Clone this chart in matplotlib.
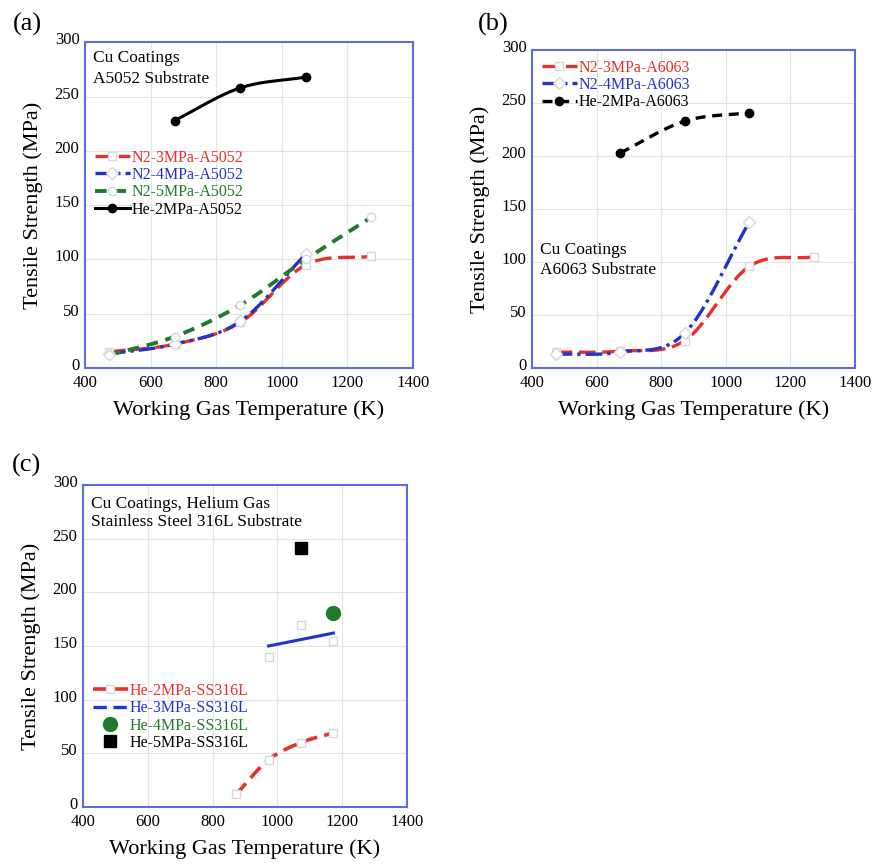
import matplotlib.pyplot as plt
import matplotlib.transforms as mtransforms
import numpy as np

# ---- data ----
temps = [473, 673, 873, 1073, 1273]

# (a) A5052 substrate
a_n2_3 = [15, 22, 42, 95, 103]
a_n2_4 = [13, 22, 43, 105]
a_n2_5 = [12, 29, 58, 100, 139]
a_he_2_t = [673, 873, 1073]
a_he_2 = [228, 258, 268]

# (b) A6063 substrate
b_n2_3 = [15, 16, 26, 96, 105]
b_n2_4 = [13, 15, 33, 138]
b_he_2_t = [673, 873, 1073]
b_he_2 = [203, 233, 241]

# (c) SS316L substrate
c_he_2_t = [873, 973, 1073, 1173]
c_he_2 = [12, 44, 60, 69]
c_he_3_t = [973, 1073, 1173]
c_he_3 = [140, 170, 155]          # measured points (open squares)
c_he_3_fit_t = [973, 1173]
c_he_3_fit = [150, 162]           # drawn line
c_he_4_t = [1173]
c_he_4 = [181]
c_he_5_t = [1073]
c_he_5 = [241]

RED = '#e8302a'
BLUE = '#2233cc'
GREEN = '#1f7a2a'
FRAME = '#5b6fd6'
OPEN_EDGE = '#d6d8e4'

plt.rcParams['font.family'] = ['Liberation Serif', 'DejaVu Serif']


def smooth(x, y, n=30):
    # cubic hermite curve through the points, like a spreadsheet "smoothed line"
    x = np.asarray(x, float)
    y = np.asarray(y, float)
    if len(x) < 3:
        return x, y
    px = np.concatenate([[2 * x[0] - x[1]], x, [2 * x[-1] - x[-2]]])
    py = np.concatenate([[2 * y[0] - y[1]], y, [2 * y[-1] - y[-2]]])
    xs, ys = [], []
    t = np.linspace(0, 1, n)
    h00 = 2 * t**3 - 3 * t**2 + 1
    h10 = t**3 - 2 * t**2 + t
    h01 = -2 * t**3 + 3 * t**2
    h11 = t**3 - t**2
    for i in range(1, len(px) - 2):
        for p, out in ((px, xs), (py, ys)):
            m1 = (p[i + 1] - p[i - 1]) / 2
            m2 = (p[i + 2] - p[i]) / 2
            out.extend(h00 * p[i] + h10 * m1 + h01 * p[i + 1] + h11 * m2)
    return np.array(xs), np.array(ys)


def series(ax, x, y, color, ls, lw, marker, label, filled=False, ms=6):
    sx, sy = smooth(x, y)
    ax.plot(sx, sy, color=color, ls=ls, lw=lw, zorder=3)
    mfc = color if filled else 'white'
    mec = color if filled else OPEN_EDGE
    ax.plot(x, y, ls='none', marker=marker, ms=ms, mfc=mfc, mec=mec, zorder=4)
    # legend proxy
    ax.plot([], [], color=color, ls=ls, lw=lw, marker=marker, ms=ms, mfc=mfc, mec=mec, label=label)


def style(ax):
    ax.set_xlim(400, 1400)
    ax.set_ylim(0, 300)
    ax.set_xticks(range(400, 1401, 200))
    ax.set_yticks(range(0, 301, 50))
    ax.grid(True, color='#e4e4e4', lw=0.8)
    ax.set_axisbelow(True)
    for s in ax.spines.values():
        s.set_color(FRAME)
        s.set_linewidth(1.5)
    ax.tick_params(length=0, labelsize=12)
    ax.tick_params(axis='x', pad=5)
    ax.tick_params(axis='y', pad=4)
    # y tick labels sit a little above their gridlines in the original
    shift = mtransforms.ScaledTranslation(0, 4 / 100, fig.dpi_scale_trans)
    for lab in ax.get_yticklabels():
        lab.set_transform(lab.get_transform() + shift)
    ax.set_xlabel('Working Gas Temperature (K)', fontsize=16, labelpad=7)
    ax.set_ylabel('Tensile Strength (MPa)', fontsize=16, labelpad=8)


def legend(ax, anchor):
    leg = ax.legend(loc='upper left', bbox_to_anchor=anchor, frameon=False, fontsize=11.5,
                    handlelength=2.2, handletextpad=0.1, labelspacing=0.08, borderaxespad=0)
    for txt, h in zip(leg.get_texts(), leg.legend_handles):
        txt.set_color(h.get_color())
    return leg


fig = plt.figure(figsize=(8.73, 8.64), dpi=100)

# ---- (a) ----
ax = fig.add_axes([0.0974, 0.574, 0.3757, 0.377])
style(ax)
series(ax, temps, a_n2_3, RED, (0, (5, 2)), 2.4, 's', 'N2-3MPa-A5052')
series(ax, temps[:4], a_n2_4, BLUE, (0, (5, 1.5, 1, 1.5)), 2.4, 'D', 'N2-4MPa-A5052')
series(ax, temps, a_n2_5, GREEN, (0, (3, 2)), 2.8, 'o', 'N2-5MPa-A5052')
series(ax, a_he_2_t, a_he_2, 'black', '-', 2.2, 'o', 'He-2MPa-A5052', filled=True)
ax.text(0.025, 0.975, 'Cu Coatings\nA5052 Substrate', transform=ax.transAxes,
        fontsize=12.5, va='top', linespacing=1.35)
legend(ax, (0.01, 0.69))

# ---- (b) ----
ax = fig.add_axes([0.6094, 0.574, 0.370, 0.368])
style(ax)
series(ax, temps, b_n2_3, RED, (0, (5, 2)), 2.4, 's', 'N2-3MPa-A6063')
series(ax, temps[:4], b_n2_4, BLUE, (0, (5, 1.5, 1, 1.5)), 2.4, 'D', 'N2-4MPa-A6063')
series(ax, b_he_2_t, b_he_2, 'black', (0, (3, 2)), 2.4, 'o', 'He-2MPa-A6063', filled=True)
ax.text(0.025, 0.395, 'Cu Coatings\nA6063 Substrate', transform=ax.transAxes,
        fontsize=12.5, va='top', linespacing=1.3)
legend(ax, (0.01, 0.99))

# ---- (c) ----
ax = fig.add_axes([0.0951, 0.066, 0.371, 0.3727])
style(ax)
series(ax, c_he_2_t, c_he_2, RED, (0, (4, 2)), 2.6, 's', 'He-2MPa-SS316L')
ax.plot(c_he_3_fit_t, c_he_3_fit, color=BLUE, lw=2.2, zorder=3)
ax.plot(c_he_3_t, c_he_3, ls='none', marker='s', ms=6, mfc='white', mec=OPEN_EDGE, zorder=4)
ax.plot([], [], color=BLUE, ls=(0, (4, 2)), lw=2.4, label='He-3MPa-SS316L')
ax.plot(c_he_4_t, c_he_4, ls='none', marker='o', ms=10, color=GREEN, label='He-4MPa-SS316L')
ax.plot(c_he_5_t, c_he_5, ls='none', marker='s', ms=9, color='black', label='He-5MPa-SS316L')
ax.text(0.025, 0.965, 'Cu Coatings, Helium Gas\nStainless Steel 316L Substrate',
        transform=ax.transAxes, fontsize=12.5, va='top', linespacing=1.15)
legend(ax, (0.01, 0.405))

# panel tags
fig.text(0.031, 0.972, '(a)', fontsize=19, ha='center', va='center')
fig.text(0.565, 0.972, '(b)', fontsize=19, ha='center', va='center')
fig.text(0.030, 0.461, '(c)', fontsize=19, ha='center', va='center')

fig.savefig('out.png', dpi=100)
